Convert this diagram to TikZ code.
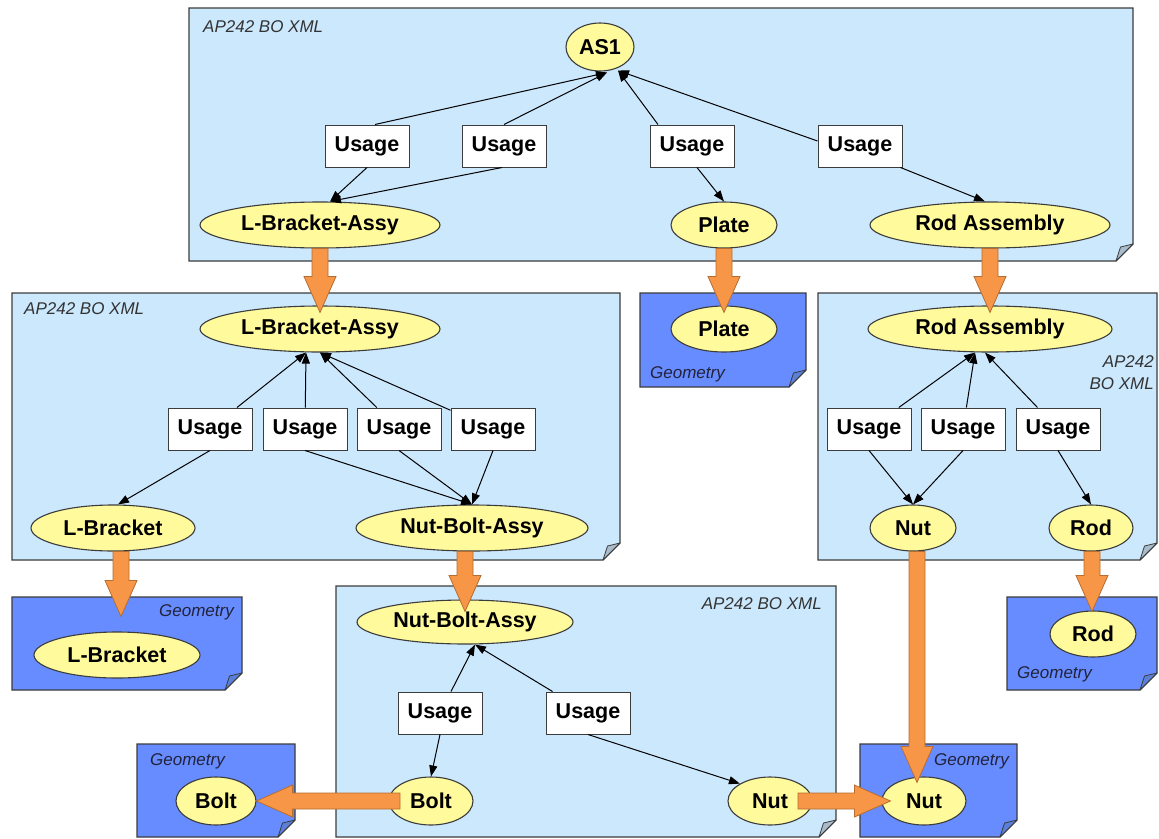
\documentclass[tikz,border=0pt]{standalone}
\usepackage{fontspec}
\setmainfont{Liberation Sans}
\usetikzlibrary{shapes.geometric,arrows.meta,calc}
\definecolor{docblue}{HTML}{CCE8FD}
\definecolor{geoblue}{HTML}{668CFF}
\definecolor{folddoc}{HTML}{A9BCCB}
\definecolor{foldgeo}{HTML}{5B80DA}
\definecolor{ellfill}{HTML}{FFFA9C}
\definecolor{borange}{HTML}{F79646}
\definecolor{dorange}{HTML}{B66D31}
\definecolor{edgegray}{HTML}{3C3C3C}
\definecolor{labelgray}{HTML}{333333}
\definecolor{geotext}{HTML}{22223A}
\tikzset{
  part/.style={ellipse, draw=edgegray, fill=ellfill, line width=1.1pt, inner sep=0pt,
    font=\fontsize{21.5}{24}\selectfont\bfseries, minimum height=46pt},
  usage/.style={rectangle, draw=edgegray, fill=white, line width=1pt, minimum width=84pt,
    minimum height=42pt, inner sep=0pt, font=\fontsize{21.5}{24}\selectfont\bfseries},
  conn/.style={draw=black, line width=1pt, -{Triangle[length=11pt,width=8pt]}},
  bigarrow/.style={draw=dorange, fill=borange, line width=0.8pt, line join=miter},
  doclabel/.style={font=\fontsize{17}{22}\selectfont\itshape, text=labelgray, inner sep=0pt},
  geolabel/.style={font=\fontsize{17}{22}\selectfont\itshape, text=geotext, inner sep=0pt},
  docframe/.style={draw=edgegray, line width=1.2pt, line join=miter},
  fold/.style={draw=edgegray, line width=0.8pt, line join=round},
}
\newcommand\docbox[6]{%
  \draw[docframe, fill=#5] (#1,#2) -- (#3,#2) -- (#3,#4-17) -- (#3-17,#4) -- (#1,#4) -- cycle;
  \draw[fold, fill=#6] (#3-17,#4) -- (#3,#4-17) -- (#3-12.5,#4-14) -- cycle;}
\newcommand\bigarrow[2]{%
  \coordinate (baneck) at ($(#2)!36pt!(#1)$);
  \draw[bigarrow] ($(#1)!8pt!90:(#2)$) -- ($(baneck)!8pt!90:(#2)$) -- ($(baneck)!16pt!90:(#2)$)
    -- (#2) -- ($(baneck)!16pt!-90:(#2)$) -- ($(baneck)!8pt!-90:(#2)$) -- ($(#1)!8pt!-90:(#2)$) -- cycle;}
\begin{document}
\begin{tikzpicture}[x=1pt,y=-1pt]
\useasboundingbox (0,0) rectangle (1159,838);
\fill[white] (0,0) rectangle (1159,838);
% document frames
\docbox{189}{8}{1133}{261}{docblue}{folddoc}
\docbox{12}{293}{620}{560}{docblue}{folddoc}
\docbox{640}{293}{806}{387}{geoblue}{foldgeo}
\docbox{818}{293}{1157}{560}{docblue}{folddoc}
\docbox{12}{597}{242}{690}{geoblue}{foldgeo}
\docbox{336}{586}{836}{837}{docblue}{folddoc}
\docbox{1007}{597}{1157}{690}{geoblue}{foldgeo}
\docbox{137}{744}{295}{837}{geoblue}{foldgeo}
\docbox{860}{744}{1017}{837}{geoblue}{foldgeo}
% frame labels
\node[doclabel, anchor=west] (l1) at (203,27) {AP242 BO XML};
\node[doclabel, anchor=west] (l2) at (24,309) {AP242 BO XML};
\node[doclabel, anchor=east, align=right] (l3) at (1154,373) {AP242\\BO XML};
\node[doclabel, anchor=east] (l4) at (822,604) {AP242 BO XML};
\node[geolabel, anchor=west] (g1) at (650,374) {Geometry};
\node[geolabel, anchor=east] (g2) at (234,612) {Geometry};
\node[geolabel, anchor=west] (g3) at (150,761) {Geometry};
\node[geolabel, anchor=east] (g4) at (1009,761) {Geometry};
\node[geolabel, anchor=west] (g5) at (1017,674) {Geometry};
% top document
\node[part, minimum width=68pt, minimum height=48pt] (AS1) at (600,47) {AS1};
\node[usage] (u1) at (367,146) {Usage};
\node[usage] (u2) at (504,146) {Usage};
\node[usage] (u3) at (692,146) {Usage};
\node[usage] (u4) at (860,146) {Usage};
\node[part, minimum width=240pt] (lba1) at (320,225) {L-Bracket-Assy};
\node[part, minimum width=106pt] (plate1) at (724,225) {Plate};
\node[part, minimum width=240pt] (rodA1) at (990,225) {Rod Assembly};
% middle left document
\node[part, minimum width=240pt] (lba2) at (320,329) {L-Bracket-Assy};
\node[usage] (uA) at (210,429) {Usage};
\node[usage] (uB) at (305,429) {Usage};
\node[usage] (uC) at (399,429) {Usage};
\node[usage] (uD) at (493,429) {Usage};
\node[part, minimum width=164pt] (lbr) at (113,528) {L-Bracket};
\node[part, minimum width=232pt] (nba1) at (472,528) {Nut-Bolt-Assy};
% plate geometry
\node[part, minimum width=106pt] (plate2) at (724,329) {Plate};
% right document
\node[part, minimum width=244pt] (rodA2) at (990,329) {Rod Assembly};
\node[usage] (uE) at (869,429) {Usage};
\node[usage] (uF) at (963,429) {Usage};
\node[usage] (uG) at (1058,429) {Usage};
\node[part, minimum width=86pt] (nutR) at (913,528) {Nut};
\node[part, minimum width=84pt] (rodR) at (1091,528) {Rod};
% L-Bracket geometry
\node[part, minimum width=166pt] (lbr2) at (117,655) {L-Bracket};
% bottom document
\node[part, minimum width=216pt, minimum height=44pt] (nba2) at (465,622) {Nut-Bolt-Assy};
\node[usage] (uH) at (440,713) {Usage};
\node[usage] (uI) at (588,713) {Usage};
\node[part, minimum width=84pt, minimum height=48pt] (bolt1) at (431,801) {Bolt};
\node[part, minimum width=84pt, minimum height=48pt] (nut1) at (770,801) {Nut};
% geometries
\node[part, minimum width=80pt, minimum height=48pt] (bolt2) at (216,801) {Bolt};
\node[part, minimum width=84pt, minimum height=48pt] (nut2) at (924,801) {Nut};
\node[part, minimum width=86pt] (rod2) at (1093,634) {Rod};
% connectors top
\coordinate (asL) at ($(AS1.south)+(7,1)$);
\coordinate (asR) at ($(AS1.south)+(18,-1)$);
\draw[conn] ($(u1.north)+(8,0)$) -- (asL);
\draw[conn] (u2.north) -- (asL);
\draw[conn] ($(u3.north)+(-34,0)$) -- (asR);
\draw[conn] ($(u4.west)+(0,-5)$) -- (asR);
\draw[conn] (u1.south) -- ($(lba1.north)+(10,0)$);
\draw[conn] ($(u2.south)+(-2,0)$) -- ($(lba1.north)+(10,0)$);
\draw[conn] ($(u3.south)+(5,0)$) -- (plate1.north);
\draw[conn] ($(u4.south east)+(-2,0)$) -- ($(rodA1.north)+(-5,0)$);
% connectors middle left
\draw[conn] (uA) -- ($(lba2.south)+(-14,0)$);
\draw[conn] (uB) -- ($(lba2.south)+(-14,0)$);
\draw[conn] (uC) -- ($(lba2.south)+(0,0)$);
\draw[conn] (uD) -- ($(lba2.south)+(0,0)$);
\draw[conn] (uA.south) -- ($(lbr.north)+(5,0)$);
\draw[conn] (uB.south) -- (nba1.north);
\draw[conn] (uC.south) -- (nba1.north);
\draw[conn] (uD.south) -- (nba1.north);
% connectors right
\draw[conn] (uE) -- ($(rodA2.south)+(-15,0)$);
\draw[conn] (uF) -- ($(rodA2.south)+(-15,0)$);
\draw[conn] (uG) -- ($(rodA2.south)+(-5,0)$);
\draw[conn] (uE.south) -- (nutR.north);
\draw[conn] (uF.south) -- (nutR.north);
\draw[conn] (uG.south) -- (rodR.north);
% connectors bottom
\draw[conn] (uH) -- ($(nba2.south)+(10,0)$);
\draw[conn] (uI) -- ($(nba2.south)+(10,0)$);
\draw[conn] (uH.south) -- (bolt1.north);
\draw[conn] (uI.south) -- (nut1.150);
% block arrows
\coordinate (t1) at ($(lba2.north)+(0,7)$);
\coordinate (t2) at ($(plate2.north)+(0,7)$);
\coordinate (t3) at ($(rodA2.north)+(0,7)$);
\coordinate (s4) at ($(lbr.south)+(8,0)$);
\coordinate (t4) at ($(lbr2.north)+(4,-15)$);
\coordinate (s5) at ($(nba1.south)+(-7,0)$);
\coordinate (t5) at ($(nba2.north)+(0,12)$);
\coordinate (s6) at ($(rodR.south)+(1,0)$);
\coordinate (t6) at ($(rod2.north)+(-1,1)$);
\coordinate (s7) at ($(nutR.south)+(4,0)$);
\coordinate (t7) at ($(nut2.north)+(-7,6)$);
\coordinate (s8) at ($(bolt1.center)+(-31,0)$);
\coordinate (s9) at ($(nut1.center)+(28,0)$);
\coordinate (t9) at ($(nut2.west)+(9,0)$);
\bigarrow{lba1.south}{t1}
\bigarrow{plate1.south}{t2}
\bigarrow{rodA1.south}{t3}
\bigarrow{s4}{t4}
\bigarrow{s5}{t5}
\bigarrow{s6}{t6}
\bigarrow{s7}{t7}
\bigarrow{s8}{bolt2.east}
\bigarrow{s9}{t9}
\end{tikzpicture}
\end{document}
